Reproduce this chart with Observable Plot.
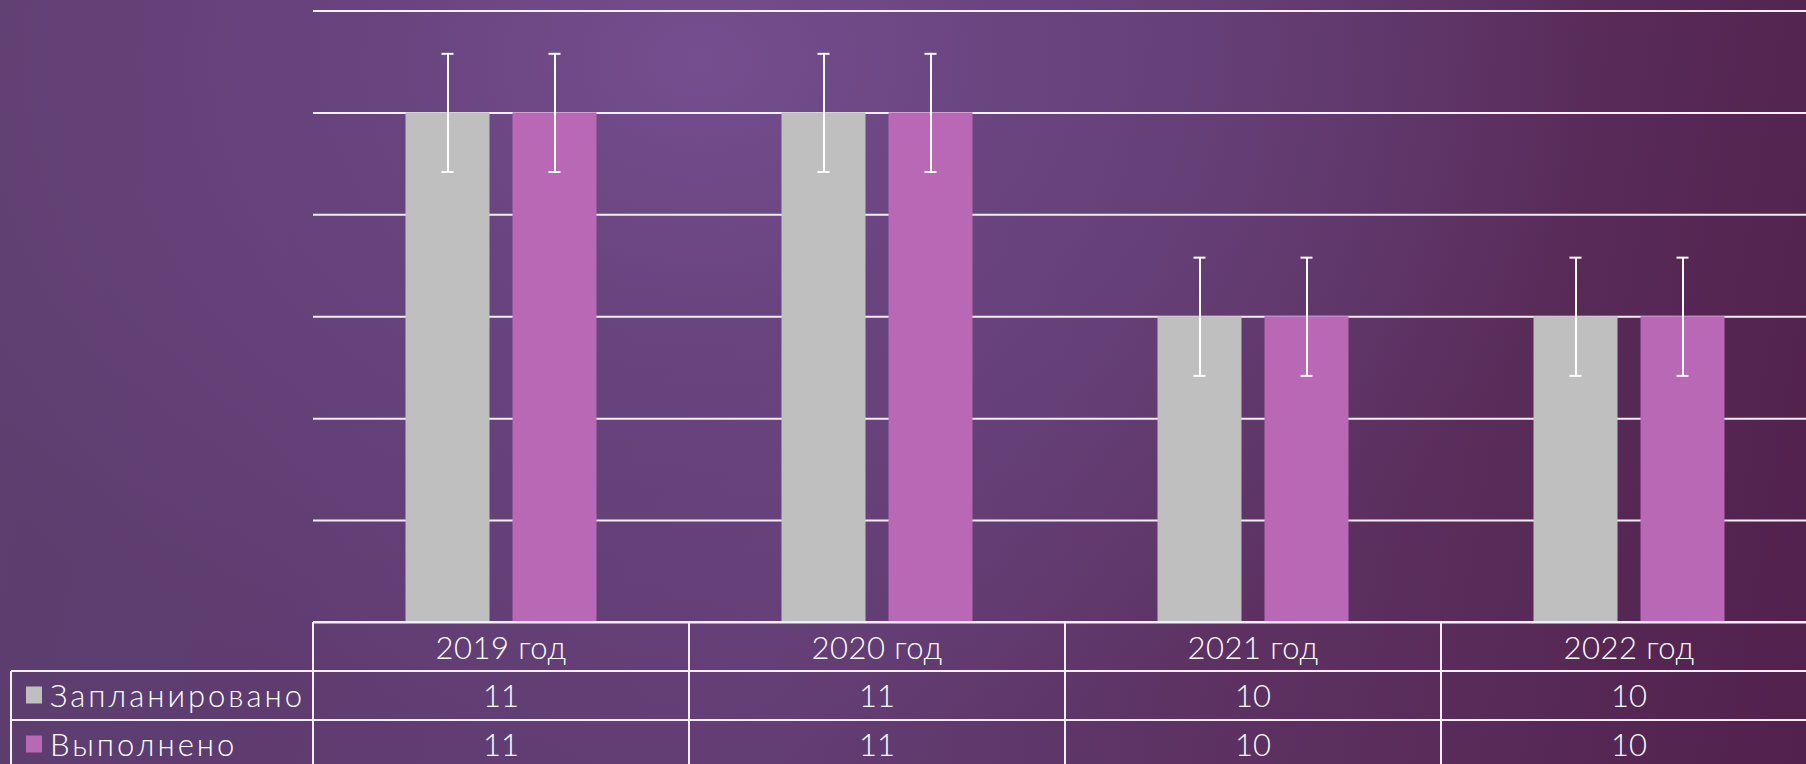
<!DOCTYPE html>
<html>
<head>
<meta charset="utf-8">
<script src="https://cdn.jsdelivr.net/npm/d3@7"></script>
<script src="https://cdn.jsdelivr.net/npm/@observablehq/plot@0.6"></script>
<style>
  html, body { margin: 0; padding: 0; }
  body {
    width: 1806px; height: 764px; overflow: hidden;
    background:
      radial-gradient(ellipse 900px 700px at 700px 60px, rgba(116,78,142,1) 0%, rgba(106,70,130,0.85) 35%, rgba(95,55,110,0) 100%),
      linear-gradient(100deg, #5d3e6e 0%, #5e3c70 20%, #633e75 45%, #5b2f5e 75%, #52214c 100%);
  }
  #chart { position: relative; width: 1806px; height: 764px; }
  #chart svg { display: block; overflow: hidden; }
</style>
</head>
<body>
<div id="chart"></div>
<script>
// ---- data ----
const years = ["2019 год", "2020 год", "2021 год", "2022 год"];
const seriesNames = ["Запланировано", "Выполнено"];
const planned = [11, 11, 10, 10];
const done = [11, 11, 10, 10];
const plannedErr = [0.29, 0.29, 0.29, 0.29];
const doneErr = [0.29, 0.29, 0.29, 0.29];
const yDomain = [8.5, 11.5];
const yTicks = [8.5, 9, 9.5, 10, 10.5, 11, 11.5];

// ---- styles ----
const W = 1806, H = 764;
const colors = {"Запланировано": "#bfbfbf", "Выполнено": "#b968b5"};
const lineColor = "#f3eef5";
const BAR_W = 84, BAR_GAP = 23;
const band = 376;
const xRange = [313, 313 + band * years.length];
const outer = (band - 2 * BAR_W - BAR_GAP) / 2;
const off = (BAR_W + BAR_GAP) / 2;
const capHalf = 6;
const font = "Lato, 'Open Sans', sans-serif";
const fontSize = 31;

const rows = [];
years.forEach((year, i) => {
  rows.push({year, series: seriesNames[0], value: planned[i], err: plannedErr[i]});
  rows.push({year, series: seriesNames[1], value: done[i], err: doneErr[i]});
});
const rowsP = rows.filter(d => d.series === seriesNames[0]);
const rowsD = rows.filter(d => d.series === seriesNames[1]);

function errMarks(data, dx) {
  const opts = {stroke: "#ffffff", strokeWidth: 2};
  return [
    Plot.ruleX(data, {x: "year", y1: d => d.value - d.err, y2: d => d.value + d.err, dx, ...opts}),
    Plot.tickY(data, {x: "year", y: d => d.value + d.err, dx, insetLeft: band / 2 - capHalf, insetRight: band / 2 - capHalf, ...opts}),
    Plot.tickY(data, {x: "year", y: d => d.value - d.err, dx, insetLeft: band / 2 - capHalf, insetRight: band / 2 - capHalf, ...opts})
  ];
}

const plot = Plot.plot({
  width: W,
  height: H,
  marginLeft: 313,
  marginRight: 0,
  marginTop: 10.5,
  marginBottom: 142,
  style: {background: "transparent", overflow: "hidden", fontFamily: font},
  x: {type: "band", domain: years, range: xRange, padding: 0, axis: null},
  y: {domain: yDomain, axis: null},
  marks: [
    Plot.ruleY(yTicks, {stroke: lineColor, strokeWidth: 2}),
    Plot.barY(rowsP, {x: "year", y1: yDomain[0], y2: "value", fill: colors[seriesNames[0]], insetLeft: outer, insetRight: outer + BAR_W + BAR_GAP}),
    Plot.barY(rowsD, {x: "year", y1: yDomain[0], y2: "value", fill: colors[seriesNames[1]], insetLeft: outer + BAR_W + BAR_GAP, insetRight: outer}),
    ...errMarks(rowsP, -off),
    ...errMarks(rowsD, off)
  ]
});
document.getElementById("chart").appendChild(plot);

// ---- data table below the plot, positioned from Plot's scales ----
const xs = plot.scale("x");
const ys = plot.scale("y");
const bw = xs.bandwidth;
const top0 = ys.apply(yDomain[0]);
const rowH = 49;
const tableLeft = 11;
const xEnd = xs.apply(years[years.length - 1]) + bw;
const svg = d3.select(plot);
const g = svg.append("g").attr("class", "datatable");

const lineAttrs = sel => sel.attr("stroke", lineColor).attr("stroke-width", 2);
g.append("line").attr("x1", xRange[0]).attr("x2", xEnd).attr("y1", top0).attr("y2", top0).call(lineAttrs);
[1, 2].forEach(k => {
  g.append("line").attr("x1", tableLeft).attr("x2", xEnd).attr("y1", top0 + k * rowH).attr("y2", top0 + k * rowH).call(lineAttrs);
});
years.forEach(y => {
  const x = xs.apply(y);
  g.append("line").attr("x1", x).attr("x2", x).attr("y1", top0).attr("y2", H).call(lineAttrs);
});
g.append("line").attr("x1", xEnd).attr("x2", xEnd).attr("y1", top0).attr("y2", H).call(lineAttrs);
g.append("line").attr("x1", tableLeft).attr("x2", tableLeft).attr("y1", top0 + rowH).attr("y2", H).call(lineAttrs);

const textAttrs = sel => sel.attr("fill", "#ffffff").attr("font-family", font).attr("font-size", fontSize)
  .attr("font-weight", 300).attr("dominant-baseline", "central");
years.forEach(y => {
  g.append("text").attr("x", xs.apply(y) + bw / 2).attr("y", top0 + rowH / 2)
    .attr("text-anchor", "middle").attr("letter-spacing", 0.5).text(y).call(textAttrs);
});
const seriesValues = [planned, done];
seriesNames.forEach((name, r) => {
  const cy = top0 + rowH * (r + 1) + rowH / 2 - 1;
  g.append("rect").attr("x", 26).attr("y", cy - 8).attr("width", 16).attr("height", 17).attr("fill", colors[name]);
  g.append("text").attr("x", 50).attr("y", cy).attr("text-anchor", "start").attr("letter-spacing", 3).text(name).call(textAttrs);
  years.forEach((y, i) => {
    g.append("text").attr("x", xs.apply(y) + bw / 2).attr("y", cy)
      .attr("text-anchor", "middle").text(seriesValues[r][i]).call(textAttrs);
  });
});
</script>
</body>
</html>
